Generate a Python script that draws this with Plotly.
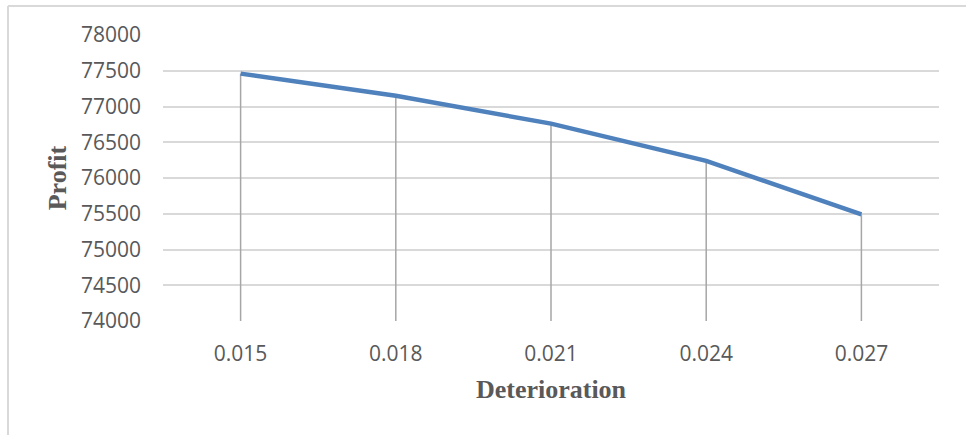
import plotly.graph_objects as go

# Profit as a function of the deterioration rate
deterioration = ["0.015", "0.018", "0.021", "0.024", "0.027"]
profit = [77460, 77150, 76760, 76240, 75490]

y_min, y_max, y_step = 74000, 78000, 500

line_color = "#4f81bd"
drop_color = "#a6a6a6"
grid_color = "#d9d9d9"
text_color = "#595959"

# Vertical drop lines from the axis floor up to each point
drop_x, drop_y = [], []
for cat, val in zip(deterioration, profit):
    drop_x += [cat, cat, None]
    drop_y += [y_min, val, None]

fig = go.Figure()
fig.add_trace(go.Scatter(
    x=drop_x, y=drop_y, mode="lines",
    line=dict(color=drop_color, width=1.5),
    hoverinfo="skip", showlegend=False,
))
fig.add_trace(go.Scatter(
    x=deterioration, y=profit, mode="lines",
    line=dict(color=line_color, width=4.5),
    showlegend=False,
))

fig.update_layout(
    width=966, height=435,
    margin=dict(l=163, r=27, t=35, b=114),
    paper_bgcolor="white", plot_bgcolor="white",
    font=dict(family="Open Sans", color=text_color),
    shapes=[dict(
        type="line", xref="paper", yref="paper",
        x0=-155 / 776, x1=1.2, y0=1 + 29 / 286, y1=1 + 29 / 286,
        line=dict(color=grid_color, width=2),
    ), dict(
        type="line", xref="paper", yref="paper",
        x0=-155 / 776, x1=-155 / 776, y0=1 + 29 / 286, y1=-0.5,
        line=dict(color=grid_color, width=2),
    )],
)

fig.update_xaxes(
    type="category", categoryorder="array", categoryarray=deterioration,
    range=[-0.5, len(deterioration) - 0.5],
    showgrid=False, zeroline=False, showline=False, ticks="",
    tickfont=dict(size=21, color=text_color, family="Open Sans"),
    ticklabelstandoff=18,
    title=dict(text="<b>Deterioration</b>", standoff=13,
               font=dict(family="Liberation Serif", size=26, color=text_color)),
)
fig.update_yaxes(
    range=[y_min, y_max], dtick=y_step, tick0=y_min, tickformat="d",
    showgrid=True, gridcolor=grid_color, gridwidth=1.5,
    zeroline=False, showline=False, ticks="",
    tickfont=dict(size=21, color=text_color, family="Open Sans"),
    ticklabelstandoff=21,
    title=dict(text="<b>Profit</b>", standoff=6,
               font=dict(family="Liberation Serif", size=26, color=text_color)),
)

fig.write_html("out.html")
